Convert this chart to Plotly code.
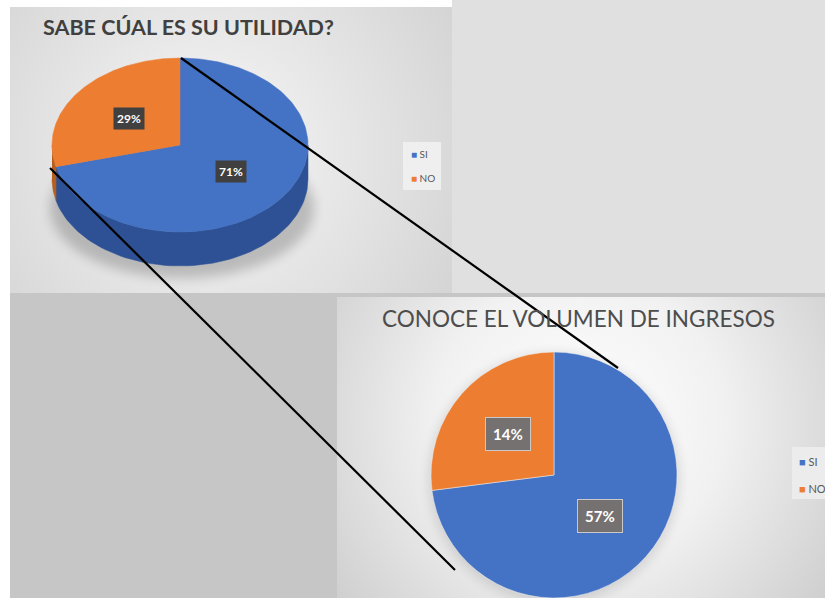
import base64
import numpy as np
import plotly.graph_objects as go

# ---------------- data ----------------
title1 = "SABE CÚAL ES SU UTILIDAD?"
labels1 = ["SI", "NO"]
values1 = [71, 29]
text1 = ["71%", "29%"]

title2 = "CONOCE EL VOLUMEN DE INGRESOS"
labels2 = ["SI", "NO"]
values2 = [73, 27]          # slice sizes as drawn
text2 = ["57%", "14%"]      # labels as printed on the chart

colors = ["#4472c4", "#ed7d31"]
side_colors = ["#2d5194", "#b45f1f"]

W, H = 825, 598

# ---------------- background (gradients as an SVG image) ----------------
svg = f'''<svg xmlns="http://www.w3.org/2000/svg" width="{W}" height="{H}" viewBox="0 0 {W} {H}">
<defs>
<radialGradient id="g1" gradientUnits="userSpaceOnUse" cx="210" cy="150" r="300">
<stop offset="0" stop-color="#f7f7f7"/><stop offset="1" stop-color="#d2d2d2"/></radialGradient>
<radialGradient id="g2" gradientUnits="userSpaceOnUse" cx="580" cy="420" r="320">
<stop offset="0" stop-color="#ffffff"/><stop offset="0.45" stop-color="#f1f1f1"/><stop offset="1" stop-color="#cbcbcb"/></radialGradient>
<filter id="blur" x="-50%" y="-50%" width="200%" height="200%"><feGaussianBlur stdDeviation="6"/></filter>
</defs>
<rect width="{W}" height="{H}" fill="#ffffff"/>
<rect x="452" y="0" width="373" height="293" fill="#e0e0e0"/>
<rect x="10" y="7" width="442" height="286" fill="url(#g1)"/>
<rect x="10" y="293" width="815" height="305" fill="#c6c6c6"/>
<rect x="337" y="297" width="488" height="301" fill="url(#g2)"/>
<ellipse cx="182" cy="208" rx="132" ry="70" fill="#000" opacity="0.2" filter="url(#blur)"/>
<circle cx="554" cy="478" r="125" fill="#000" opacity="0.12" filter="url(#blur)"/>
<rect x="403" y="142" width="38" height="48" fill="#efefef"/>
<rect x="792" y="447" width="40" height="52" fill="#ececec"/>
</svg>'''
src = "data:image/svg+xml;base64," + base64.b64encode(svg.encode()).decode()

fig = go.Figure()

# ---------------- pie 1 : 3-D elliptical pie ----------------
cx, cy, rx, ry, depth = 180, 145, 128, 87, 34

def ell(a_deg):
    a = np.radians(a_deg)
    return cx + rx * np.cos(a), cy - ry * np.sin(a)

tot1 = sum(values1)
bounds = []
start = 90.0
for v in values1:
    end = start - 360.0 * v / tot1
    bounds.append((start, end))
    start = end

# sides (front half only)
for (a0, a1), sc in zip(bounds, side_colors):
    for k in range(-2, 2):
        lo, hi = max(a1, -180 + 360 * k), min(a0, 360 * k)
        if hi > lo:
            ang = np.linspace(lo, hi, 80)
            xs, ys = ell(ang)
            px = np.concatenate([xs, xs[::-1]])
            py = np.concatenate([ys, ys[::-1] + depth])
            fig.add_trace(go.Scatter(x=px, y=py, mode="lines", fill="toself",
                                     fillcolor=sc, line=dict(width=0.5, color=sc),
                                     hoverinfo="skip", showlegend=False))
# top faces
for (a0, a1), c, lab in zip(bounds, colors, labels1):
    ang = np.linspace(a0, a1, 150)
    xs, ys = ell(ang)
    px = np.concatenate([[cx], xs, [cx]])
    py = np.concatenate([[cy], ys, [cy]])
    fig.add_trace(go.Scatter(x=px, y=py, mode="lines", fill="toself", fillcolor=c,
                             line=dict(width=0.5, color=c), name=lab,
                             hoverinfo="name", showlegend=False))

# labels of pie 1
for (a0, a1), t in zip(bounds, text1):
    mid = np.radians((a0 + a1) / 2)
    fig.add_annotation(x=cx + 0.5 * rx * np.cos(mid), y=cy - 0.5 * ry * np.sin(mid),
                       text=f"<b>{t}</b>", showarrow=False,
                       font=dict(family="Lato", size=12, color="white"),
                       bgcolor="#404040", borderpad=3)

# ---------------- pie 2 : flat pie ----------------
p2cx, p2cy, p2r = 554, 475, 123
fig.add_trace(go.Pie(labels=labels2, values=values2, sort=False, direction="clockwise",
                     rotation=0, textinfo="none", hoverinfo="label",
                     marker=dict(colors=colors, line=dict(color="#f0f0f0", width=0.5)),
                     domain=dict(x=[(p2cx - p2r) / W, (p2cx + p2r) / W],
                                 y=[(H - p2cy - p2r) / H, (H - p2cy + p2r) / H]),
                     showlegend=False))
tot2 = sum(values2)
start = 90.0
for v, t in zip(values2, text2):
    end = start - 360.0 * v / tot2
    mid = np.radians((start + end) / 2)
    fig.add_annotation(x=p2cx + 0.5 * p2r * np.cos(mid), y=p2cy - 0.5 * p2r * np.sin(mid),
                       text=f"<b>{t}</b>", showarrow=False,
                       font=dict(family="Lato", size=15, color="white"),
                       bgcolor="#767171", bordercolor="#c9c9c9", borderwidth=1, borderpad=7)
    start = end

# ---------------- titles ----------------
fig.add_annotation(x=188, y=27, text=f"<b>{title1}</b>", showarrow=False,
                   font=dict(family="Lato", size=21.5, color="#404040"))
fig.add_annotation(x=578, y=318, text=title2, showarrow=False,
                   font=dict(family="Lato", size=22.5, color="#4d4d4d"))

# ---------------- legends ----------------
for lx, ly, gap, fs in [(409, 154, 24, 10), (797, 461, 27, 11)]:
    for i, (lab, c) in enumerate(zip(labels1, colors)):
        fig.add_annotation(x=lx, y=ly + i * gap, xanchor="left",
                           text=f"<span style='color:{c}'>■</span> {lab}", showarrow=False,
                           font=dict(family="Lato", size=fs, color="#595959"))

# ---------------- connector lines ----------------
fig.add_shape(type="line", x0=181, y0=58, x1=618, y1=368, line=dict(color="black", width=2.2))
fig.add_shape(type="line", x0=50, y0=168, x1=455, y1=570, line=dict(color="black", width=2.2))

fig.add_layout_image(dict(source=src, xref="paper", yref="paper", x=0, y=1, sizex=1, sizey=1,
                          xanchor="left", yanchor="top", sizing="stretch", layer="below"))

fig.update_layout(width=W, height=H, margin=dict(l=0, r=0, t=0, b=0, autoexpand=False),
                  paper_bgcolor="white", plot_bgcolor="rgba(0,0,0,0)",
                  xaxis=dict(range=[0, W], visible=False, fixedrange=True),
                  yaxis=dict(range=[H, 0], visible=False, fixedrange=True),
                  showlegend=False)

fig.write_html("out.html", config={"displayModeBar": False},
               post_script="document.body.style.margin='0';document.body.style.overflow='hidden';")
